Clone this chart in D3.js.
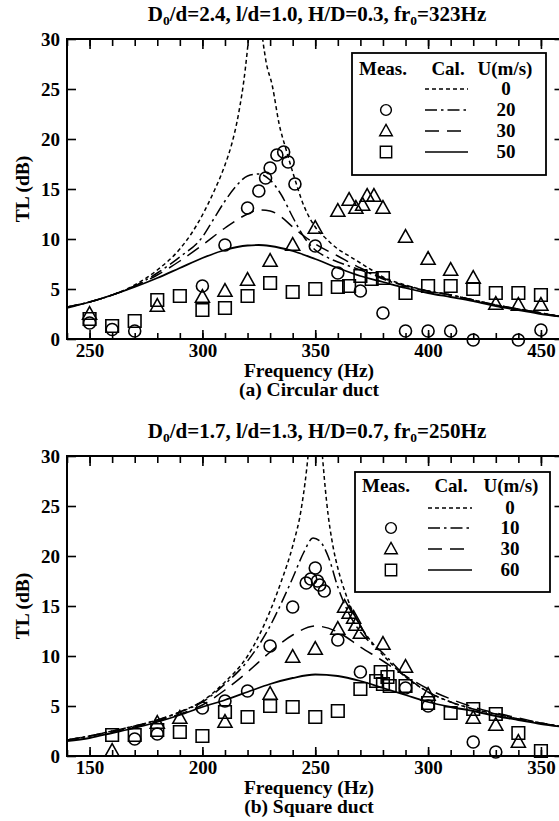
<!DOCTYPE html>
<html>
<head>
<meta charset="utf-8">
<script src="https://cdn.jsdelivr.net/npm/d3@7"></script>
<style>
  body { margin: 0; background: #fff; }
  svg text { font-family: "Liberation Serif", "Times New Roman", serif; font-weight: bold; fill: #000; }
</style>
</head>
<body>
<svg id="chart" width="559" height="821"></svg>
<script>
// ---------- (a) circular duct ----------
const calcA_U0 = [[240,3.2],[250,3.7],[260,4.4],[270,5.4],[280,6.9],[290,9.0],[295,10.5],[300,12.4],[305,14.7],[310,17.4],[313,19.5],[316,22.5],[319,27],[321,31.5],[323.5,40],[326,31.5],[328,28],[331,25.3],[334,21.5],[337,19],[340,16.7],[345,13.3],[350,11.2],[355,10.0],[360,9.0],[365,8.3],[370,7.6],[375,6.9],[380,6.2],[390,5.4],[400,4.8],[410,4.4],[420,3.9],[430,3.4],[440,3.0],[450,2.6],[460,2.2]];
const calcA_U20 = [[240,3.2],[250,3.7],[260,4.4],[270,5.3],[280,6.6],[290,8.2],[300,10.2],[305,12.0],[310,13.8],[315,15.3],[320,16.3],[325,16.5],[330,15.9],[335,14.4],[340,12.2],[345,10.2],[350,8.9],[355,8.2],[360,7.7],[365,7.3],[370,6.9],[375,6.5],[380,6.0],[390,5.3],[400,4.8],[410,4.4],[420,3.9],[430,3.4],[440,3.0],[450,2.6],[460,2.2]];
const calcA_U30 = [[240,3.2],[250,3.7],[260,4.4],[270,5.3],[280,6.4],[290,7.8],[300,9.4],[310,11.1],[320,12.5],[325,12.9],[330,12.8],[335,12.2],[340,11.2],[345,10.3],[350,9.5],[360,8.3],[370,7.1],[380,6.1],[390,5.3],[400,4.8],[410,4.4],[420,3.9],[430,3.4],[440,3.0],[450,2.6],[460,2.2]];
const calcA_U50 = [[240,3.1],[250,3.7],[260,4.4],[270,5.2],[280,6.1],[290,7.1],[300,8.1],[310,8.9],[320,9.35],[325,9.4],[330,9.3],[340,8.8],[350,8.0],[360,7.1],[370,6.3],[380,5.7],[390,5.1],[400,4.6],[410,4.2],[420,3.8],[430,3.3],[440,2.9],[450,2.5],[460,2.2]];
const measA_U20 = [[250,1.6],[260,0.95],[270,0.8],[300,5.3],[310,9.4],[320,13.1],[325,14.8],[328,16.1],[330,17.1],[333,18.4],[336,18.7],[338,17.7],[341,15.5],[350,9.3],[360,6.6],[370,4.8],[380,2.6],[390,0.8],[400,0.8],[410,0.8],[420,-0.1],[440,-0.1],[450,0.9]];
const measA_U30 = [[250,2.5],[280,3.3],[300,4.2],[310,4.8],[320,5.9],[330,7.8],[340,9.4],[350,11.1],[360,12.8],[365,13.9],[368,13.1],[371,13.4],[373,14.3],[376,14.3],[380,13.1],[390,10.2],[400,8.0],[410,6.9],[420,6.1],[430,3.5],[440,3.4],[450,3.4]];
const measA_U50 = [[250,2.0],[260,1.3],[270,1.8],[280,3.9],[290,4.3],[300,2.9],[310,3.1],[320,4.3],[330,5.6],[340,4.7],[350,5.0],[360,5.2],[365,5.3],[370,6.3],[375,6.0],[380,6.1],[390,4.6],[400,5.3],[410,5.3],[420,5.0],[430,4.6],[440,4.6],[450,4.4]];
const speedsA = ["0", "20", "30", "50"];
const xTicksA = [250, 300, 350, 400, 450];

// ---------- (b) square duct ----------
const calcB_U0 = [[140,1.6],[150,2.0],[160,2.5],[170,3.0],[180,3.6],[190,4.4],[200,5.5],[210,7.4],[220,10.0],[225,12.0],[230,14.5],[235,17.5],[240,21.0],[244,25.0],[247,30.5],[250,40],[253,30.5],[255,25.5],[258,20.8],[260,18.8],[264,15.9],[270,13.0],[275,11.4],[280,10.1],[290,7.9],[300,6.4],[310,5.4],[320,4.7],[330,4.2],[340,3.7],[350,3.3],[360,2.9]];
const calcB_U10 = [[140,1.6],[150,2.0],[160,2.5],[170,3.0],[180,3.6],[190,4.4],[200,5.4],[210,7.2],[220,9.5],[230,13.0],[235,15.3],[240,17.8],[245,20.4],[249,21.8],[252,21.5],[256,19.8],[260,16.9],[265,14.2],[270,12.4],[280,10.3],[290,8.0],[300,6.4],[310,5.4],[320,4.7],[330,4.2],[340,3.7],[350,3.3],[360,2.9]];
const calcB_U30 = [[140,1.6],[150,2.0],[160,2.4],[170,2.9],[180,3.5],[190,4.2],[200,5.1],[210,6.6],[220,8.4],[230,10.4],[240,12.1],[250,13.0],[260,12.4],[270,10.9],[280,9.5],[290,8.0],[300,6.7],[310,5.7],[320,4.9],[330,4.3],[340,3.8],[350,3.3],[360,2.9]];
const calcB_U60 = [[140,1.5],[150,1.8],[160,2.3],[170,2.8],[180,3.4],[190,4.1],[200,4.9],[210,5.6],[220,6.4],[230,7.2],[240,7.8],[250,8.15],[260,8.0],[270,7.5],[280,6.8],[290,6.1],[300,5.4],[310,4.9],[320,4.5],[330,4.0],[340,3.6],[350,3.2],[360,2.9]];
const measB_U10 = [[170,1.7],[180,2.2],[200,4.8],[210,5.5],[220,6.5],[230,11.0],[240,14.9],[246,17.3],[248,17.7],[250,18.8],[251,17.5],[252,17.1],[254,16.5],[260,11.6],[270,8.4],[290,6.8],[300,5.0],[320,1.4],[330,0.4]];
const measB_U30 = [[160,0.5],[180,3.3],[190,3.8],[210,3.4],[230,6.2],[240,9.9],[250,10.7],[260,12.7],[263,14.9],[265,14.3],[267,13.8],[268,13.1],[270,12.3],[280,11.2],[290,8.9],[300,6.1],[320,3.8],[330,3.1],[340,1.4]];
const measB_U60 = [[160,2.1],[170,2.1],[180,2.6],[190,2.4],[200,2.0],[210,4.4],[220,3.9],[230,5.0],[240,4.9],[250,3.9],[260,4.5],[270,6.7],[277,7.5],[279,8.4],[280,7.2],[282,7.9],[283,7.0],[290,7.0],[300,5.3],[310,4.3],[320,4.7],[330,4.2],[340,2.3],[350,0.5]];
const speedsB = ["0", "10", "30", "60"];
const xTicksB = [150, 200, 250, 300, 350];

const yTicks = [0, 5, 10, 15, 20, 25, 30];

const svg = d3.select("#chart");
const plotLeft = 67, plotRight = 563.5;

// line styles for calculated curves: U=0, low speed, mid speed, high speed
const dashes = ["4 3", "12 4 2.5 4", "14 8", null];
const markerKinds = ["circle", "triangle", "square"];

function markerPath(kind) {
  if (kind === "circle") return d3.symbol(d3.symbolCircle, Math.PI * 6 * 6)();
  if (kind === "square") return "M-6.3,-6.3H6.3V6.3H-6.3Z";
  return "M0,-7.3L7,5.2L-7,5.2Z";
}

function drawPanel(cfg) {
  const g = svg.append("g");
  const x = d3.scaleLinear().domain(cfg.xDomain).range([plotLeft, plotRight]);
  const y = d3.scaleLinear().domain([0, 30]).range([cfg.yBottom, cfg.yTop]);

  const clipId = "clip-" + cfg.id;
  svg.append("clipPath").attr("id", clipId)
    .append("rect").attr("x", plotLeft).attr("y", cfg.yTop)
    .attr("width", plotRight - plotLeft).attr("height", cfg.yBottom - cfg.yTop);

  // minor & major x ticks, bottom and top, pointing inward
  const minor = d3.range(cfg.xDomain[0], cfg.xDomain[1] + 1, 10);
  const axisStyle = sel => {
    sel.select(".domain").remove();
    sel.selectAll(".tick line").attr("stroke", "#000").attr("stroke-width", 1.6);
    sel.selectAll(".tick text").attr("font-size", 19).attr("fill", "#000")
      .attr("font-family", "Liberation Serif, serif").attr("font-weight", "bold");
  };
  g.append("g").attr("transform", `translate(0,${cfg.yBottom})`)
    .call(d3.axisBottom(x).tickValues(minor).tickSizeInner(-6).tickSizeOuter(0).tickFormat(""))
    .call(axisStyle);
  g.append("g").attr("transform", `translate(0,${cfg.yBottom})`)
    .call(d3.axisBottom(x).tickValues(cfg.xTicks).tickSizeInner(-9).tickSizeOuter(0).tickPadding(5).tickFormat(d3.format("d")))
    .call(axisStyle);
  g.append("g").attr("transform", `translate(0,${cfg.yTop})`)
    .call(d3.axisTop(x).tickValues(minor).tickSizeInner(-7).tickSizeOuter(0).tickFormat(""))
    .call(axisStyle);
  g.append("g").attr("transform", `translate(0,${cfg.yTop})`)
    .call(d3.axisTop(x).tickValues(cfg.xTicks).tickSizeInner(-10).tickSizeOuter(0).tickFormat(""))
    .call(axisStyle);
  // y ticks, left with labels, right mirrored
  g.append("g").attr("transform", `translate(${plotLeft},0)`)
    .call(d3.axisLeft(y).tickValues(yTicks).tickSizeInner(-9).tickSizeOuter(0).tickPadding(7).tickFormat(d3.format("d")))
    .call(axisStyle);
  g.append("g").attr("transform", `translate(${plotRight},0)`)
    .call(d3.axisRight(y).tickValues(yTicks).tickSizeInner(-9).tickSizeOuter(0).tickFormat(""))
    .call(axisStyle);

  // frame
  g.append("rect").attr("x", plotLeft).attr("y", cfg.yTop)
    .attr("width", plotRight - plotLeft).attr("height", cfg.yBottom - cfg.yTop)
    .attr("fill", "none").attr("stroke", "#000").attr("stroke-width", 2);

  // calculated curves
  const line = d3.line().x(d => x(d[0])).y(d => y(d[1])).curve(d3.curveMonotoneX);
  const curves = g.append("g").attr("clip-path", `url(#${clipId})`);
  cfg.calc.forEach((series, i) => {
    curves.append("path").datum(series).attr("d", line)
      .attr("fill", "none").attr("stroke", "#000")
      .attr("stroke-width", i === 3 ? 1.8 : 1.5)
      .attr("stroke-dasharray", dashes[i]);
  });

  // measured points
  cfg.meas.forEach((series, i) => {
    g.append("g").selectAll("path").data(series).join("path")
      .attr("d", markerPath(markerKinds[i]))
      .attr("transform", d => `translate(${x(d[0])},${y(d[1])})`)
      .attr("fill", "none").attr("stroke", "#000").attr("stroke-width", 1.6);
  });

  // legend
  const L = cfg.legend;
  const lg = g.append("g");
  lg.append("rect").attr("x", L.x0).attr("y", L.y0).attr("width", L.x1 - L.x0).attr("height", L.y1 - L.y0)
    .attr("fill", "#fff").attr("stroke", "#000").attr("stroke-width", 1.8);
  lg.append("text").attr("x", L.meas).attr("y", L.head).attr("font-size", 19).text("Meas.");
  lg.append("text").attr("x", L.cal).attr("y", L.head).attr("font-size", 19).attr("text-anchor", "middle").text("Cal.");
  lg.append("text").attr("x", L.u).attr("y", L.head).attr("font-size", 19).attr("text-anchor", "middle").text("U(m/s)");
  cfg.speeds.forEach((s, i) => {
    const ry = L.rows[i];
    lg.append("text").attr("x", L.num).attr("y", ry + 6).attr("font-size", 19).attr("text-anchor", "middle").text(s);
    lg.append("line").attr("x1", L.l0).attr("x2", L.l1).attr("y1", ry).attr("y2", ry)
      .attr("stroke", "#000").attr("stroke-width", 1.5).attr("stroke-dasharray", dashes[i]);
    if (i > 0) {
      lg.append("path").attr("d", markerPath(markerKinds[i - 1]))
        .attr("transform", `translate(${L.sym},${ry}) scale(0.9)`)
        .attr("fill", "none").attr("stroke", "#000").attr("stroke-width", 1.6);
    }
  });

  // title with subscripts
  const t = g.append("text").attr("x", cfg.titleX).attr("y", cfg.titleY).attr("font-size", 21).attr("text-anchor", "middle");
  cfg.title.forEach(part => {
    if (part.sub) {
      t.append("tspan").attr("font-size", 13.5).attr("dy", 4).text(part.sub);
      t.append("tspan").attr("dy", -4).text(part.t);
    } else {
      t.append("tspan").text(part.t);
    }
  });

  // axis titles
  g.append("text").attr("x", cfg.labelX).attr("y", cfg.yBottom + 38).attr("font-size", 19.5).attr("text-anchor", "middle").text("Frequency (Hz)");
  g.append("text").attr("x", cfg.labelX).attr("y", cfg.yBottom + 57).attr("font-size", 19.5).attr("text-anchor", "middle").text(cfg.caption);
  g.append("text").attr("transform", `translate(29,${(cfg.yTop + cfg.yBottom) / 2}) rotate(-90)`)
    .attr("font-size", 19.5).attr("text-anchor", "middle").text("TL (dB)");
}

drawPanel({
  id: "a", xDomain: [240, 460], xTicks: xTicksA, yTop: 39, yBottom: 339,
  calc: [calcA_U0, calcA_U20, calcA_U30, calcA_U50],
  meas: [measA_U20, measA_U30, measA_U50],
  speeds: speedsA,
  legend: { x0: 352, x1: 546, y0: 53, y1: 175, head: 75, rows: [89, 110, 131, 152], meas: 359, cal: 448, u: 505, num: 506, sym: 386, l0: 425, l1: 468 },
  title: [{t: "D"}, {sub: "0", t: "/d=2.4, l/d=1.0, H/D=0.3, fr"}, {sub: "0", t: "=323Hz"}],
  titleX: 317, titleY: 21, labelX: 309, caption: "(a) Circular duct"
});

drawPanel({
  id: "b", xDomain: [140, 360], xTicks: xTicksB, yTop: 456, yBottom: 756,
  calc: [calcB_U0, calcB_U10, calcB_U30, calcB_U60],
  meas: [measB_U10, measB_U30, measB_U60],
  speeds: speedsB,
  legend: { x0: 355, x1: 550, y0: 472, y1: 592, head: 492, rows: [508, 528, 549, 570], meas: 362, cal: 451, u: 511, num: 510, sym: 391, l0: 428, l1: 472 },
  title: [{t: "D"}, {sub: "0", t: "/d=1.7, l/d=1.3, H/D=0.7, fr"}, {sub: "0", t: "=250Hz"}],
  titleX: 317, titleY: 438, labelX: 309, caption: "(b) Square duct"
});
</script>
</body>
</html>
